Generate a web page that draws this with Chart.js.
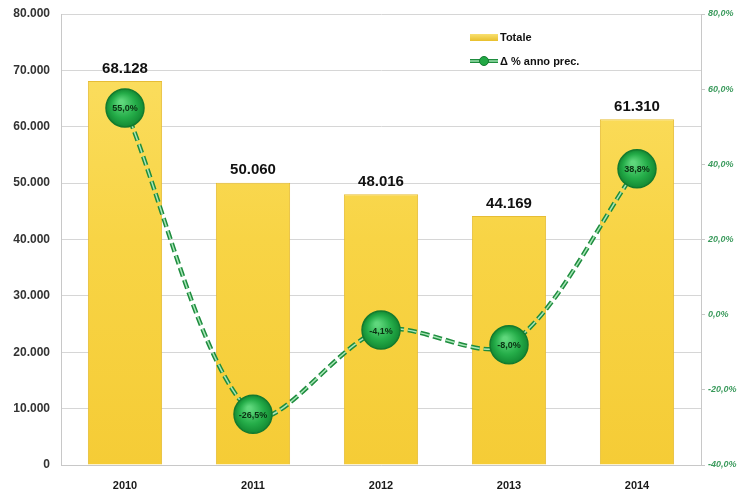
<!DOCTYPE html>
<html><head><meta charset="utf-8">
<script src="https://cdn.jsdelivr.net/npm/chart.js@4.4.1/dist/chart.umd.min.js"></script>
<style>html,body{margin:0;padding:0;background:#fff}#wrap{width:739px;height:495px}</style>
</head><body><div id="wrap"><canvas id="c" width="739" height="495"></canvas></div>
<script>
const categories = ['2010','2011','2012','2013','2014'];
const totale = [68128, 50060, 48016, 44169, 61310];
const deltaPct = [55.0, -26.5, -4.1, -8.0, 38.8];
const leftTicks = [0,10000,20000,30000,40000,50000,60000,70000,80000];
const rightTicks = [-40,-20,0,20,40,60,80];
const seriesNames = ['Totale', 'Δ % anno prec.'];

const fmtThousands = v => Math.round(v).toString().replace(/\B(?=(\d{3})+(?!\d))/g, '.');
const fmtPct = v => v.toFixed(1).replace('.', ',') + '%';

const labelsPlugin = {
  id: 'labelsPlugin',
  afterDatasetsDraw(chart) {
    const ctx = chart.ctx;
    ctx.save();
    const barMeta = chart.getDatasetMeta(0);
    ctx.font = 'bold 15px "Liberation Sans", Arial, sans-serif';
    ctx.fillStyle = '#111';
    ctx.textAlign = 'center';
    ctx.textBaseline = 'bottom';
    barMeta.data.forEach((el, i) => {
      ctx.fillText(fmtThousands(totale[i]), el.x, el.y - 5);
    });
    const ptMeta = chart.getDatasetMeta(3);
    ctx.font = 'bold 9px "Liberation Sans", Arial, sans-serif';
    ctx.fillStyle = '#0a3012';
    ctx.textBaseline = 'middle';
    ptMeta.data.forEach((el, i) => {
      ctx.fillText(fmtPct(deltaPct[i]), el.x, el.y + 1);
    });
    // legend
    const lx = 470, ly1 = 37, ly2 = 61;
    const g = ctx.createLinearGradient(0, ly1 - 4, 0, ly1 + 4);
    g.addColorStop(0, '#fbe57a'); g.addColorStop(1, '#e8bf2c');
    ctx.fillStyle = g;
    ctx.fillRect(lx, ly1 - 3, 28, 7);
    ctx.strokeStyle = '#1e8c3e'; ctx.lineWidth = 4;
    ctx.beginPath(); ctx.moveTo(lx, ly2); ctx.lineTo(lx + 28, ly2); ctx.stroke();
    ctx.strokeStyle = '#9be0ac'; ctx.lineWidth = 1.5;
    ctx.beginPath(); ctx.moveTo(lx, ly2); ctx.lineTo(lx + 28, ly2); ctx.stroke();
    ctx.fillStyle = '#22a845'; ctx.strokeStyle = '#157a30'; ctx.lineWidth = 1;
    ctx.beginPath(); ctx.arc(lx + 14, ly2, 4.5, 0, Math.PI * 2); ctx.fill(); ctx.stroke();
    ctx.font = 'bold 11px "Liberation Sans", Arial, sans-serif';
    ctx.fillStyle = '#111';
    ctx.textAlign = 'left';
    ctx.fillText(seriesNames[0], lx + 30, ly1 + 1);
    ctx.fillText(seriesNames[1], lx + 30, ly2 + 1);
    ctx.restore();
  }
};

const ptGradient = (c) => {
  const el = c.element;
  if (!el || el.x === undefined || isNaN(el.x)) return '#23aa47';
  const g = c.chart.ctx.createRadialGradient(el.x - 4, el.y - 6, 2, el.x, el.y, 19);
  g.addColorStop(0, '#5fd77c'); g.addColorStop(0.6, '#25ad49'); g.addColorStop(1, '#138a33');
  return g;
};

const ctx = document.getElementById('c').getContext('2d');
new Chart(ctx, {
  type: 'bar',
  data: {
    labels: categories,
    datasets: [
      {
        type: 'bar', label: seriesNames[0], data: totale, yAxisID: 'y', order: 4,
        backgroundColor: (c) => {
          const ca = c.chart.chartArea;
          if (!ca) return '#f8d548';
          const g = c.chart.ctx.createLinearGradient(0, ca.top, 0, ca.bottom);
          g.addColorStop(0, '#fbe066'); g.addColorStop(0.5, '#f8d445'); g.addColorStop(1, '#f5cc36');
          return g;
        },
        borderColor: '#e6bd35', borderWidth: 1,
        barPercentage: 0.58, categoryPercentage: 1
      },
      {
        type: 'line', label: seriesNames[1], data: deltaPct, yAxisID: 'y1', order: 3,
        borderColor: '#1e8c3e', borderWidth: 4.5, borderDash: [9, 4],
        pointRadius: 0, tension: 0.3, fill: false
      },
      {
        type: 'line', label: 'inner', data: deltaPct, yAxisID: 'y1', order: 2,
        borderColor: '#a8e6b8', borderWidth: 1.5, borderDash: [9, 4],
        pointRadius: 0, tension: 0.3, fill: false
      },
      {
        type: 'line', label: 'points', data: deltaPct, yAxisID: 'y1', order: 1,
        showLine: false,
        pointRadius: 19, pointHoverRadius: 19,
        pointBackgroundColor: ptGradient, pointBorderColor: '#137a2e', pointBorderWidth: 1.5
      }
    ]
  },
  options: {
    responsive: false, animation: false,
    layout: { autoPadding: false, padding: { top: 14, left: 0, right: 0, bottom: 0 } },
    plugins: { legend: { display: false }, tooltip: { enabled: false } },
    scales: {
      x: {
        grid: { display: false },
        border: { color: '#c8c8c8', width: 1 },
        ticks: { color: '#1a1a1a', font: { family: '"Liberation Sans", Arial, sans-serif', size: 11, weight: 'bold' }, padding: 6 },
        afterFit(s) { s.height = 30; }
      },
      y: {
        position: 'left', min: 0, max: 80000,
        afterBuildTicks(s) { s.ticks = leftTicks.map(v => ({ value: v })); },
        grid: { color: '#d6d6d6', lineWidth: 1, drawTicks: false },
        border: { color: '#c8c8c8', width: 1 },
        ticks: { color: '#333', padding: 11, font: { family: '"Liberation Sans", Arial, sans-serif', size: 12, weight: 'bold' }, callback: v => fmtThousands(v) },
        afterFit(s) { s.width = 61; s.paddingTop = 0; s.paddingBottom = 0; }
      },
      y1: {
        position: 'right', min: -40, max: 80,
        afterBuildTicks(s) { s.ticks = rightTicks.map(v => ({ value: v })); },
        grid: { drawOnChartArea: false, color: '#c8c8c8', tickLength: 4 },
        border: { color: '#c8c8c8', width: 1 },
        ticks: { color: '#3a9a5c', padding: 3, font: { family: '"Liberation Sans", Arial, sans-serif', size: 9, style: 'italic', weight: 'bold' }, callback: v => fmtPct(v) },
        afterFit(s) { s.width = 38; s.paddingTop = 0; s.paddingBottom = 0; }
      }
    }
  },
  plugins: [labelsPlugin]
});
</script>
</body></html>
